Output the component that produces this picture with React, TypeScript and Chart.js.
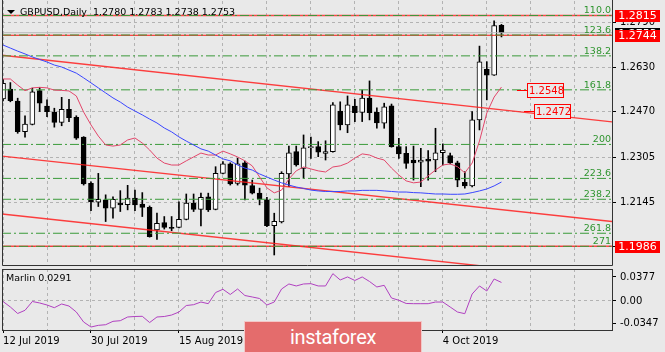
import React, { useEffect, useRef } from "react";
import { Chart, registerables } from "chart.js";

Chart.register(...registerables);

// ---------------- data ----------------
const opens = [1.2515,1.2551,1.2508,1.2398,1.2424,1.2545,1.2490,1.2467,1.2431,1.2478, 1.2449,1.2378,1.2212,1.2145,1.2153,1.2123,1.2141,1.2136,1.2159,1.2138, 1.2126,1.2045,1.2071,1.2054,1.2054,1.2083,1.2141,1.2119,1.2164,1.2119, 1.2248,1.2282,1.2212,1.2286,1.2204,1.2177,1.2153,1.2060,1.2074,1.2246, 1.2326,1.2266,1.2340,1.2344,1.2320,1.2326,1.2472,1.2422,1.2490,1.2467, 1.2518,1.2467,1.2428,1.2491,1.2344,1.2320,1.2296,1.2288,1.2299,1.2296, 1.2322,1.2312,1.2286,1.2216,1.2203,1.2440,1.2622,1.2601,1.2780];
const highs = [1.2586,1.2574,1.2518,1.2455,1.2554,1.2556,1.2512,1.2482,1.2521,1.2514, 1.2455,1.2380,1.2218,1.2248,1.2171,1.2164,1.2186,1.2205,1.2188,1.2179, 1.2131,1.2105,1.2093,1.2093,1.2146,1.2174,1.2174,1.2177,1.2177,1.2272, 1.2290,1.2286,1.2302,1.2292,1.2224,1.2195,1.2162,1.2105,1.2254,1.2346, 1.2346,1.2386,1.2378,1.2362,1.2365,1.2502,1.2505,1.2526,1.2514,1.2547, 1.2580,1.2483,1.2500,1.2497,1.2374,1.2344,1.2346,1.2338,1.2330,1.2410, 1.2354,1.2321,1.2292,1.2254,1.2470,1.2705,1.2649,1.2796,1.2783];
const lows = [1.2508,1.2505,1.2392,1.2378,1.2422,1.2470,1.2452,1.2414,1.2419,1.2434, 1.2370,1.2206,1.2114,1.2129,1.2075,1.2087,1.2111,1.2117,1.2114,1.2093, 1.2019,1.2011,1.2048,1.2042,1.2052,1.2081,1.2111,1.2059,1.2111,1.2117, 1.2246,1.2206,1.2206,1.2153,1.2174,1.2135,1.2057,1.1955,1.2070,1.2200, 1.2274,1.2230,1.2302,1.2308,1.2296,1.2324,1.2404,1.2394,1.2434,1.2434, 1.2440,1.2410,1.2410,1.2342,1.2302,1.2266,1.2224,1.2200,1.2224,1.2254, 1.2278,1.2282,1.2200,1.2195,1.2199,1.2404,1.2512,1.2600,1.2738];
const closes = [1.2571,1.2509,1.2398,1.2425,1.2541,1.2500,1.2470,1.2431,1.2478,1.2448, 1.2374,1.2210,1.2146,1.2155,1.2123,1.2155,1.2135,1.2159,1.2135,1.2126, 1.2021,1.2069,1.2054,1.2050,1.2083,1.2141,1.2119,1.2162,1.2117,1.2248, 1.2282,1.2210,1.2282,1.2206,1.2177,1.2155,1.2060,1.2076,1.2248,1.2322, 1.2278,1.2340,1.2344,1.2324,1.2326,1.2494,1.2422,1.2494,1.2466,1.2518, 1.2466,1.2429,1.2487,1.2344,1.2318,1.2284,1.2286,1.2296,1.2292,1.2322, 1.2332,1.2286,1.2224,1.2203,1.2440,1.2649,1.2601,1.2779,1.2753];

const fastMA = [1.2587,1.2587,1.2565,1.2545,1.2555,1.2557,1.2555,1.2547,1.2546,1.2544, 1.2526,1.2468,1.2422,1.2382,1.2350,1.2346,1.2350,1.2368,1.2375,1.2357, 1.2332,1.2303,1.2285,1.2278,1.2278,1.2293,1.2307,1.2321,1.2314,1.2314, 1.2328,1.2318,1.2307,1.2293,1.2275,1.2235,1.2196,1.2178,1.2188,1.2228, 1.2257,1.2271,1.2264,1.2257,1.2253,1.2271,1.2275,1.2285,1.2303,1.2318, 1.2314,1.2303,1.2296,1.2267,1.2242,1.2221,1.2214,1.2217,1.2239,1.2260, 1.2278,1.2282,1.2272,1.2250,1.2285,1.2364,1.2465,1.2522,1.2558];
const slowMA = [1.2709,1.2698,1.2687,1.2677,1.2666,1.2657,1.2648,1.2637,1.2630,1.2619, 1.2608,1.2591,1.2573,1.2555,1.2537,1.2519,1.2504,1.2486,1.2472,1.2458, 1.2443,1.2429,1.2411,1.2397,1.2379,1.2364,1.2350,1.2336,1.2328,1.2314, 1.2300,1.2293,1.2278,1.2267,1.2260,1.2246,1.2235,1.2224,1.2214,1.2206, 1.2199,1.2194,1.2188,1.2185,1.2183,1.2183,1.2183,1.2185,1.2185,1.2187, 1.2187,1.2187,1.2185,1.2183,1.2181,1.2181,1.2179,1.2178,1.2176,1.2174, 1.2174,1.2173,1.2173,1.2174,1.2179,1.2185,1.2192,1.2203,1.2217];

const marlin = [-0.0008,-0.0094,-0.0196,-0.0146,-0.0008,-0.0031,-0.0063,-0.0105,-0.0047,-0.0079, -0.0173,-0.0330,-0.0408,-0.0382,-0.0372,-0.0319,-0.0309,-0.0251,-0.0243,-0.0240, -0.0338,-0.0251,-0.0243,-0.0220,-0.0173,-0.0071,-0.0058,-0.0016,-0.0042,0.0133, 0.0184,0.0102,0.0188,0.0086,0.0063,0.0039,-0.0063,-0.0016,0.0188,0.0267, 0.0236,0.0267,0.0272,0.0236,0.0236,0.0429,0.0330,0.0377,0.0322,0.0377, 0.0306,0.0220,0.0246,0.0047,0.0011,-0.0039,-0.0042,-0.0042,-0.0042,-0.0016, -0.0016,-0.0094,-0.0173,-0.0199,0.0110,0.0236,0.0157,0.0345,0.0291];

const labelBars = [0, 12, 24, 36, 48, 60];
const dateLabels = ["12 Jul 2019", "30 Jul 2019", "15 Aug 2019", "2 Sep 2019", "18 Sep 2019", "4 Oct 2019"];
const gridBars = [0, 6, 12, 18, 24, 30, 36, 42, 48, 54, 60, 66, 72, 78];
const priceTicks = [1.279, 1.263, 1.247, 1.2305, 1.2145, 1.1985];
const marlinTicks = [0.0377, 0, -0.0347];

const fibLevels = [1.2815, 1.2745, 1.2670, 1.2548, 1.2352, 1.2230, 1.2155, 1.2033, 1.1986];
const fibNames = ["110.0", "123.6", "138.2", "161.8", "200", "223.6", "238.2", "261.8", "271"];
const levelPrices = [1.2815, 1.2744, 1.1986];
const channelStartBars = [-0.14, -0.14, -0.14];
const channelStartPrices = [1.2672, 1.2310, 1.2102];
const channelEndBars = [83.08, 83.08, 83.08];
const channelEndPrices = [1.2433, 1.2075, 1.1865];
const tagBars = [71.5, 72.4];
const tagPrices = [1.2548, 1.2472];
const bidPrice = 1.2753;
const titleText = "GBPUSD,Daily  1.2780 1.2783 1.2738 1.2753";
const oscTitle = "Marlin 0.0291";

// ---------------- styling ----------------
const FAMILY = "DejaVu Sans";
const BG = "#e9e9e9";
const GRID = "#b3b3b3";
const XMIN = -0.14;
const XMAX = 83.08;

const zeroPad = (s: any) => {
  s.paddingTop = 0;
  s.paddingBottom = 0;
  s.paddingLeft = 0;
  s.paddingRight = 0;
};

const hLine = (p: number, color: string, width: number, dash: number[], order: number) => ({
  type: "line" as const,
  data: [{ x: XMIN, y: p }, { x: XMAX, y: p }],
  borderColor: color,
  borderWidth: width,
  borderDash: dash,
  pointRadius: 0,
  fill: false,
  clip: 0,
  order,
});

function mainConfig(): any {
  const idx = opens.map((_, i) => i);
  const bodies = idx.map((i) => ({ x: i, y: [Math.min(opens[i], closes[i]), Math.max(opens[i], closes[i])] }));
  const bodyColors = idx.map((i) => (closes[i] >= opens[i] ? "#ffffff" : "#000000"));
  const wicks = idx.map((i) => ({ x: i, y: [lows[i], highs[i]] }));

  const datasets: any[] = [
    { type: "bar", data: wicks, backgroundColor: "#000", borderWidth: 0, barThickness: 1, grouped: false, order: 21 },
    {
      type: "bar", data: bodies, backgroundColor: bodyColors, borderColor: "#000", borderWidth: 1,
      borderSkipped: false, barThickness: 5, grouped: false, minBarLength: 1, order: 20,
    },
    hLine(bidPrice, "#b8b8b8", 1, [], 10),
  ];
  fibLevels.forEach((p) => datasets.push(hLine(p, "#3a9a3a", 1, [9, 3, 2, 3], 7)));
  levelPrices.forEach((p, k) => datasets.push(hLine(p, k === 1 ? "#ff1010" : "rgba(255,30,30,0.8)", k === 1 ? 1 : 1.5, [], 8)));
  channelStartBars.forEach((b, k) =>
    datasets.push({
      type: "line",
      data: [{ x: b, y: channelStartPrices[k] }, { x: channelEndBars[k], y: channelEndPrices[k] }],
      borderColor: "rgba(255,30,30,0.85)", borderWidth: 1.4, pointRadius: 0, fill: false, clip: 0, order: 8,
    })
  );
  datasets.push({
    type: "line", data: idx.map((i) => ({ x: i, y: slowMA[i] })), borderColor: "#3a46ff",
    borderWidth: 1, pointRadius: 0, fill: false, clip: 0, order: 5,
  });
  datasets.push({
    type: "line", data: idx.map((i) => ({ x: i, y: fastMA[i] })), borderColor: "#e2466a",
    borderWidth: 1, pointRadius: 0, fill: false, clip: 0, order: 5,
  });

  const overlay = {
    id: "mainOverlay",
    afterDraw(chart: any) {
      const { ctx, chartArea: a, scales } = chart;
      const xs = scales.x;
      const ys = scales.y;
      ctx.save();
      // fib level names
      ctx.font = `9.5px '${FAMILY}'`;
      ctx.fillStyle = "#2f952f";
      ctx.textAlign = "right";
      ctx.textBaseline = "alphabetic";
      fibLevels.forEach((p, k) => {
        const py = ys.getPixelForValue(p);
        ctx.fillText(fibNames[k], a.right - 1, py - 2);
      });
      // price tags
      ctx.font = `10px '${FAMILY}'`;
      tagPrices.forEach((p, k) => {
        const px = Math.round(xs.getPixelForValue(tagBars[k]));
        const py = Math.round(ys.getPixelForValue(p));
        ctx.strokeStyle = "#ff0000";
        ctx.lineWidth = 1;
        ctx.beginPath();
        ctx.moveTo(px - 10, py + 0.5);
        ctx.lineTo(px, py + 0.5);
        ctx.stroke();
        ctx.fillStyle = BG;
        ctx.fillRect(px, py - 7, 37, 15);
        ctx.strokeRect(px + 0.5, py - 6.5, 36, 14);
        ctx.fillStyle = "#ff0000";
        ctx.textAlign = "left";
        ctx.textBaseline = "middle";
        ctx.fillText(p.toFixed(4), px + 2, py + 1);
      });
      // title
      ctx.fillStyle = "#000";
      ctx.beginPath();
      ctx.moveTo(7, 10);
      ctx.lineTo(15, 10);
      ctx.lineTo(11, 14);
      ctx.closePath();
      ctx.fill();
      ctx.font = `9.5px '${FAMILY}'`;
      ctx.textAlign = "left";
      ctx.textBaseline = "alphabetic";
      ctx.fillText(titleText, 20, 15);
      // frame
      ctx.strokeStyle = "#333";
      ctx.lineWidth = 1;
      ctx.beginPath();
      ctx.moveTo(a.left + 0.5, a.top - 1);
      ctx.lineTo(a.left + 0.5, a.bottom + 0.5);
      ctx.lineTo(a.right + 0.5, a.bottom + 0.5);
      ctx.lineTo(a.right + 0.5, a.top - 1);
      ctx.stroke();
      // axis price boxes
      const box = (p: number, fill: string) => {
        const py = Math.round(ys.getPixelForValue(p));
        ctx.fillStyle = fill;
        ctx.fillRect(a.right + 3, py - 5, 45, 12);
        ctx.fillStyle = "#fff";
        ctx.font = `11px '${FAMILY}'`;
        ctx.textAlign = "center";
        ctx.textBaseline = "middle";
        ctx.fillText(p.toFixed(4), a.right + 3 + 22.5, py + 1.5);
      };
      box(bidPrice, "#000");
      levelPrices.forEach((p) => box(p, "#ff0000"));
      ctx.restore();
    },
  };

  return {
    type: "bar",
    data: { datasets },
    plugins: [overlay],
    options: {
      animation: false,
      responsive: false,
      devicePixelRatio: 1,
      events: [],
      layout: { padding: { left: 2, top: 1, right: 0, bottom: 2 } },
      plugins: { legend: { display: false }, tooltip: { enabled: false } },
      scales: {
        x: {
          type: "linear", min: XMIN, max: XMAX, offset: false, position: "bottom",
          afterBuildTicks: (s: any) => { s.ticks = gridBars.map((v) => ({ value: v })); },
          ticks: { display: false, autoSkip: false },
          grid: { color: GRID, lineWidth: 1, drawTicks: false, offset: false, tickBorderDash: [] },
          border: { display: false, dash: [3, 3] },
          afterFit: (s: any) => { s.height = 0; zeroPad(s); },
        },
        y: {
          type: "linear", position: "right", min: 1.1919, max: 1.2867,
          afterBuildTicks: (s: any) => { s.ticks = priceTicks.map((v) => ({ value: v })); },
          ticks: {
            autoSkip: false, padding: 4, color: "#000", font: { family: FAMILY, size: 10 },
            callback: (v: any) => Number(v).toFixed(4),
          },
          grid: { color: GRID, lineWidth: 1, drawTicks: true, tickLength: 4, tickColor: "#000", tickBorderDash: [] },
          border: { display: false, dash: [3, 3] },
          afterFit: (s: any) => { s.width = 53; zeroPad(s); },
        },
      },
    },
  };
}

function oscConfig(): any {
  const idx = marlin.map((_, i) => i);
  const overlay = {
    id: "oscOverlay",
    afterDraw(chart: any) {
      const { ctx, chartArea: a } = chart;
      ctx.save();
      ctx.strokeStyle = "#333";
      ctx.lineWidth = 1;
      ctx.strokeRect(a.left + 0.5, a.top + 0.5, a.right - a.left, a.bottom - a.top);
      ctx.fillStyle = "#000";
      ctx.font = `9.5px '${FAMILY}'`;
      ctx.textAlign = "left";
      ctx.textBaseline = "middle";
      ctx.fillText(oscTitle, 6, a.top + 10);
      ctx.restore();
    },
  };
  const labelFor = (v: number) => {
    const k = labelBars.indexOf(Math.round(v));
    return k >= 0 ? dateLabels[k] : "";
  };
  return {
    type: "line",
    data: {
      datasets: [
        {
          data: idx.map((i) => ({ x: i, y: marlin[i] })), borderColor: "#b040c0", borderWidth: 1,
          pointRadius: 0, fill: false, clip: 0,
        },
      ],
    },
    plugins: [overlay],
    options: {
      animation: false,
      responsive: false,
      devicePixelRatio: 1,
      events: [],
      layout: { padding: { left: 2, top: 2, right: 0, bottom: 0 } },
      plugins: { legend: { display: false }, tooltip: { enabled: false } },
      scales: {
        x: {
          type: "linear", min: XMIN, max: XMAX, offset: false, position: "bottom",
          afterBuildTicks: (s: any) => { s.ticks = gridBars.map((v) => ({ value: v })); },
          ticks: {
            autoSkip: false, maxRotation: 0, minRotation: 0, align: "start", padding: 2, color: "#000",
            font: { family: FAMILY, size: 10 }, callback: (v: any) => labelFor(Number(v)),
          },
          grid: {
            color: GRID, lineWidth: 1, drawTicks: true, tickLength: 3, tickBorderDash: [],
            tickColor: (c: any) => (c.tick && labelFor(c.tick.value) ? "#000" : "rgba(0,0,0,0)"),
          },
          border: { display: false, dash: [3, 3] },
          afterFit: (s: any) => { s.height = 22; zeroPad(s); },
        },
        y: {
          type: "linear", position: "right", min: -0.0455, max: 0.0502,
          afterBuildTicks: (s: any) => { s.ticks = marlinTicks.map((v) => ({ value: v })); },
          ticks: {
            autoSkip: false, padding: 4, color: "#000", font: { family: FAMILY, size: 10 },
            callback: (v: any) => (Number(v) === 0 ? "0.00" : Number(v).toFixed(4)),
          },
          grid: {
            lineWidth: 1, drawTicks: true, tickLength: 4, tickColor: "#000", tickBorderDash: [],
            color: (c: any) => (c.tick && c.tick.value === 0 ? GRID : "rgba(0,0,0,0)"),
          },
          border: { display: false, dash: [3, 3] },
          afterFit: (s: any) => { s.width = 53; zeroPad(s); },
        },
      },
    },
  };
}

export default function App() {
  const mainRef = useRef<HTMLCanvasElement>(null);
  const oscRef = useRef<HTMLCanvasElement>(null);
  useEffect(() => {
    const c1 = new Chart(mainRef.current as HTMLCanvasElement, mainConfig());
    const c2 = new Chart(oscRef.current as HTMLCanvasElement, oscConfig());
    return () => {
      c1.destroy();
      c2.destroy();
    };
  }, []);
  return (
    <div style={{ position: "fixed", left: 0, top: 0, width: 665, height: 352, background: BG, overflow: "hidden" }}>
      <canvas ref={mainRef} width={665} height={267} style={{ position: "absolute", left: 0, top: 0 }} />
      <canvas ref={oscRef} width={665} height={85} style={{ position: "absolute", left: 0, top: 267 }} />
      <div
        style={{
          position: "absolute", left: 244, top: 321, width: 178, height: 32, boxSizing: "border-box",
          background: "#e46c6c", border: "1px solid #f3c7c7", color: "#fff", fontFamily: "Roboto",
          fontSize: 20, letterSpacing: "-0.3px", display: "flex", alignItems: "center", justifyContent: "center",
          lineHeight: "20px",
        }}
      >
        instaforex
      </div>
    </div>
  );
}
